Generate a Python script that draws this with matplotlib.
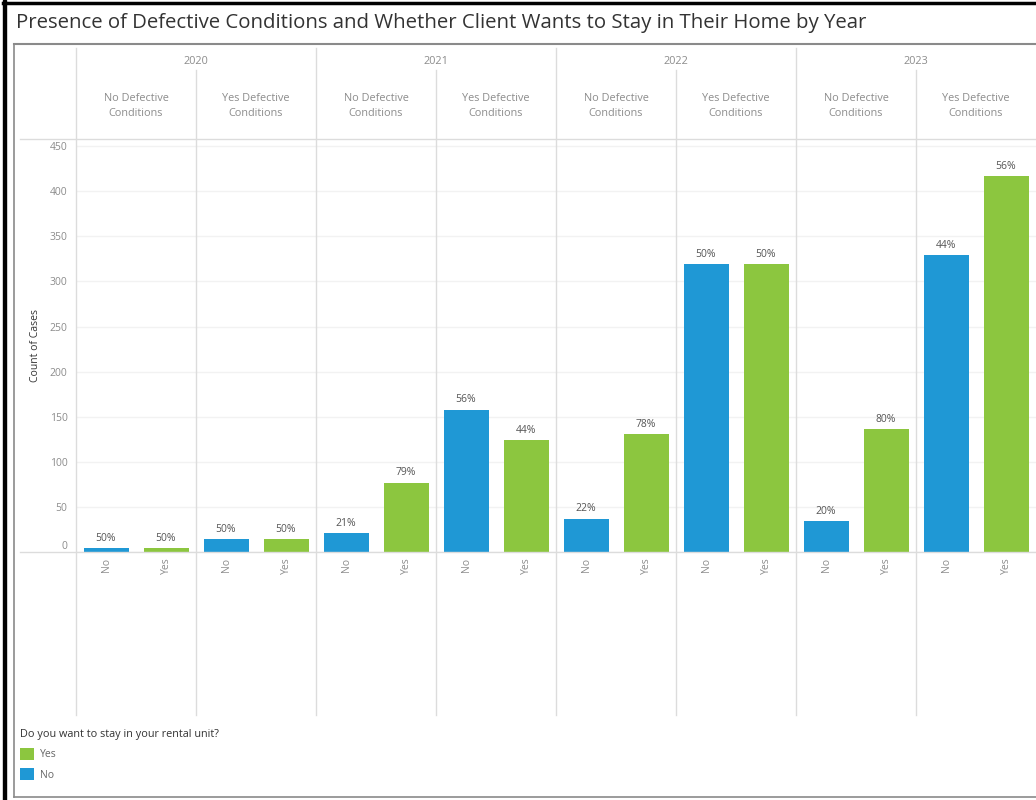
import numpy as np
import matplotlib.pyplot as plt
from matplotlib.lines import Line2D
from matplotlib.patches import Rectangle

# Datos
years = ['2020', '2021', '2022', '2023']
conditions = ['No Defective\nConditions', 'Yes Defective\nConditions']
stay_answers = ['No', 'Yes']
# un valor por (anio, condicion), en orden 2020-No, 2020-Yes, 2021-No, ...
count_no = [4, 14, 21, 158, 37, 319, 34, 329]
count_yes = [4, 14, 77, 124, 131, 319, 136, 417]
y_ticks = [0, 50, 100, 150, 200, 250, 300, 350, 400, 450]

title = 'Presence of Defective Conditions and Whether Client Wants to Stay in Their Home by Year'
legend_title = 'Do you want to stay in your rental unit?'

blue = '#1f98d5'
green = '#8cc63f'
grid_col = '#dcdcdc'

W, H = 1036, 800
plt.rcParams['font.family'] = ['Open Sans', 'DejaVu Sans']


def fx(x):
    return x / W


def fy(y):
    return 1 - y / H


fig = plt.figure(figsize=(W / 100, H / 100), dpi=100)

# ejes de datos: de x=76 a 1036, de y=139 a 552 (pixeles)
ax = fig.add_axes([fx(76), fy(552), fx(1036) - fx(76), fy(139) - fy(552)])

n = len(count_no)
x_no = np.arange(n) * 2
x_yes = x_no + 1
bars_no = ax.bar(x_no, count_no, width=0.75, color=blue, zorder=3)
bars_yes = ax.bar(x_yes, count_yes, width=0.75, color=green, zorder=3)

# porcentajes dentro de cada grupo
for i in range(n):
    total = count_no[i] + count_yes[i]
    for xv, v in ((x_no[i], count_no[i]), (x_yes[i], count_yes[i])):
        ax.annotate(f'{round(100 * v / total):.0f}%', (xv, v), xytext=(0, 3),
                    textcoords='offset points', ha='center', va='bottom',
                    fontsize=7.5, color='#555555')

ax.set_xlim(-0.5, 2 * n - 0.5)
ax.set_ylim(0, 458)
ax.set_yticks(y_ticks)
ax.set_yticklabels([str(t) for t in y_ticks], fontsize=7.5, color='#8c8c8c')
ax.get_yticklabels()[0].set_va('bottom')
ax.set_xticks(np.arange(2 * n))
ax.set_xticklabels(stay_answers * n, rotation=90, fontsize=7.5, color='#8c8c8c',
                   va='top')
ax.tick_params(length=0, pad=6)
ax.tick_params(axis='x', pad=4)
ax.grid(axis='y', color='#f2f2f2', linewidth=1, zorder=0)
for s in ax.spines.values():
    s.set_visible(False)

fig.text(fx(36), fy(345), 'Count of Cases', rotation=90, ha='center', va='center',
         fontsize=7.5, color='#333333')

# lineas de la cuadricula de paneles (estilo tabla)
lines = []
for k in range(len(years)):
    x0 = 76 + k * 240
    lines.append(((x0, x0), (48, 715)))
    lines.append(((x0 + 120, x0 + 120), (70, 715)))
lines.append(((20, 1036), (139, 139)))
lines.append(((20, 1036), (552, 552)))
for (xs, ys) in lines:
    fig.add_artist(Line2D([fx(xs[0]), fx(xs[1])], [fy(ys[0]), fy(ys[1])],
                          color=grid_col, linewidth=1))

# encabezados
for k, yr in enumerate(years):
    fig.text(fx(76 + k * 240 + 120), fy(61), yr, ha='center', va='center',
             fontsize=7.8, color='#8c8c8c')
    for j, cond in enumerate(conditions):
        fig.text(fx(76 + k * 240 + j * 120 + 60), fy(106), cond, ha='center',
                 va='center', fontsize=7.8, color='#8c8c8c', linespacing=1.45)

# titulo
fig.text(fx(16), fy(23), title, ha='left', va='center', fontsize=14.7,
         color='#333333')

# bordes
fig.add_artist(Rectangle((fx(3), 0), fx(3), 1, color='black', transform=fig.transFigure))
fig.add_artist(Line2D([fx(3), 1], [fy(3), fy(3)], color='black', linewidth=2.5))
fig.add_artist(Line2D([fx(14), 1], [fy(44), fy(44)], color='#8a8a8a', linewidth=1.5))
fig.add_artist(Line2D([fx(14), fx(14)], [fy(44), fy(797)], color='#8a8a8a', linewidth=1.2))
fig.add_artist(Line2D([fx(14), 1], [fy(797), fy(797)], color='#8a8a8a', linewidth=1.2))

# leyenda
leg = fig.legend([bars_yes, bars_no], ['Yes', 'No'], title=legend_title,
                 loc='upper left', bbox_to_anchor=(fx(13), fy(722)),
                 frameon=False, alignment='left', fontsize=7.5,
                 title_fontsize=7.8, handlelength=1.35, handleheight=1.35,
                 handletextpad=0.5, labelspacing=0.75, borderpad=0.2)
leg.get_title().set_color('#333333')
for t in leg.get_texts():
    t.set_color('#666666')

fig.savefig('out.png', dpi=100)
